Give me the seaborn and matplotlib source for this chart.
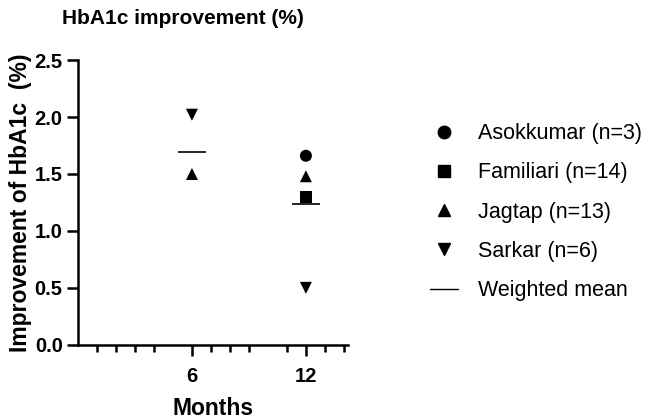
import matplotlib
matplotlib.use("Agg")
import matplotlib.pyplot as plt
from matplotlib.lines import Line2D
import seaborn as sns
import pandas as pd

studies = ["Asokkumar (n=3)", "Familiari (n=14)", "Jagtap (n=13)", "Sarkar (n=6)"]
markers = ["o", "s", "^", "v"]

months = [6, 6, 12, 12, 12, 12]
study_of_point = ["Sarkar (n=6)", "Jagtap (n=13)",
                  "Asokkumar (n=3)", "Jagtap (n=13)", "Familiari (n=14)", "Sarkar (n=6)"]
improvement = [2.02, 1.50, 1.66, 1.48, 1.30, 0.50]

mean_months = [6, 12]
weighted_mean = [1.69, 1.24]

df = pd.DataFrame({"Months": months, "Study": study_of_point, "Improvement": improvement})

sns.set_theme(style="ticks")
plt.rcParams["font.family"] = ["Liberation Sans", "DejaVu Sans"]
for k in ["text.color", "axes.labelcolor", "xtick.color", "ytick.color", "axes.edgecolor"]:
    plt.rcParams[k] = "black"

fig = plt.figure(figsize=(6.61, 4.2), dpi=100)
ax = fig.add_axes([0.118, 0.179, 0.408, 0.678])

sns.scatterplot(data=df, x="Months", y="Improvement", style="Study",
                style_order=studies, markers=dict(zip(studies, markers)),
                color="black", s=75, edgecolor="none", ax=ax, legend=False, zorder=3)
ax.hlines(weighted_mean, [m - 0.75 for m in mean_months], [m + 0.75 for m in mean_months],
          colors="black", linewidth=1.2, zorder=2)

ax.set_xlim(0, 14.2)
ax.set_ylim(0, 2.5)
ax.set_xticks([6, 12])
ax.set_xticks([1, 2, 3, 4, 7, 8, 9, 11, 13, 14], minor=True)
ax.set_yticks([0, 0.5, 1.0, 1.5, 2.0, 2.5])
ax.set_yticklabels(["0.0", "0.5", "1.0", "1.5", "2.0", "2.5"])
for lab in ax.get_xticklabels() + ax.get_yticklabels():
    lab.set_fontweight("bold")
ax.tick_params(axis="both", which="major", labelsize=14.5, width=1.8, length=8, color="black")
ax.tick_params(axis="y", which="major", pad=3)
ax.tick_params(axis="x", which="major", pad=8)
ax.tick_params(axis="x", which="minor", width=1.8, length=5, color="black")
sns.despine(ax=ax)
for sp in ["left", "bottom"]:
    ax.spines[sp].set_linewidth(1.8)
    ax.spines[sp].set_color("black")

ax.set_xlabel("Months", fontsize=16.5, fontweight="bold", labelpad=8)
ax.set_ylabel("Improvement of HbA1c  (%)", fontsize=16.5, fontweight="bold", labelpad=2)

fig.text(0.094, 0.957, "HbA1c improvement (%)", fontsize=15, fontweight="bold",
         ha="left", va="center")

handles = [Line2D([], [], marker=m, color="black", linestyle="none", markersize=9)
           for m in markers]
handles.append(Line2D([], [], color="black", linewidth=1.0))
fig.legend(handles, studies + ["Weighted mean"], loc="upper left",
           bbox_to_anchor=(0.6505, 0.707), frameon=False, fontsize=15.5,
           labelspacing=0.85, handlelength=1.3, handletextpad=0.93, borderpad=0,
           borderaxespad=0)

fig.savefig("out.png", dpi=100)
